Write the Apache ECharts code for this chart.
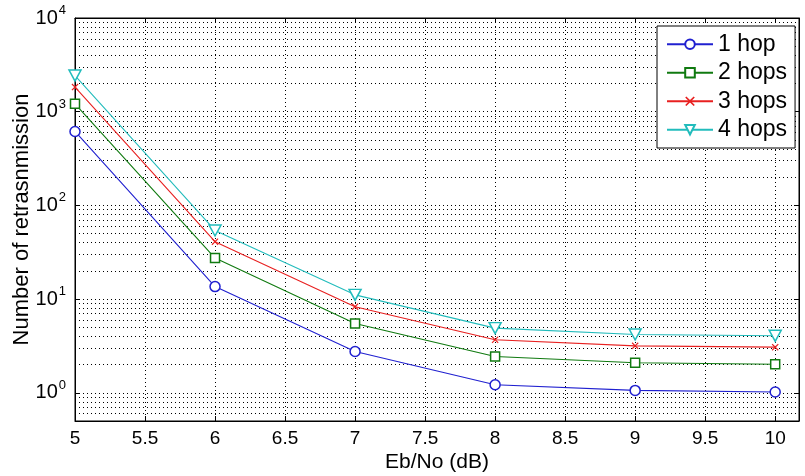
<!DOCTYPE html>
<html>
<head>
<meta charset="utf-8">
<script src="https://cdn.jsdelivr.net/npm/echarts@6/dist/echarts.min.js"></script>
<style>
html,body{margin:0;padding:0;background:#fff;}
#chart{width:805px;height:476px;}
</style>
</head>
<body>
<div id="chart"></div>
<script>
var ebNo = [5, 6, 7, 8, 9, 10];
var hop1 = [615, 13.6, 2.76, 1.22, 1.06, 1.02];
var hop2 = [1214, 27.4, 5.5, 2.44, 2.09, 2.02];
var hop3 = [1830, 41, 8.3, 3.68, 3.17, 3.07];
var hop4 = [2430, 54, 11.1, 4.9, 4.19, 4.06];
var seriesNames = ['1 hop', '2 hops', '3 hops', '4 hops'];
var xTickLabels = ['5', '5.5', '6', '6.5', '7', '7.5', '8', '8.5', '9', '9.5', '10'];
var minorGridValues = [0.6, 0.7, 0.8, 0.9,
  2, 3, 4, 5, 6, 7, 8, 9,
  20, 30, 40, 50, 60, 70, 80, 90,
  200, 300, 400, 500, 600, 700, 800, 900,
  2000, 3000, 4000, 5000, 6000, 7000, 8000, 9000];

var FONT = "'Liberation Sans', Arial, sans-serif";
var colors = ['#2020d0', '#107a10', '#e82020', '#22bcbc'];
var dotted = [1, 3];

function pairs(vals) { return ebNo.map(function (x, i) { return [x, vals[i]]; }); }

var xLabelFmt = function (v) {
  var s = String(Math.round(v * 10) / 10);
  if (Math.abs(v * 2 - Math.round(v * 2)) > 1e-6) return '';
  return xTickLabels.indexOf(s) >= 0 ? s : '';
};
var yLabelFmt = function (v) {
  var l = Math.log(v) / Math.LN10;
  var e = Math.round(l);
  if (Math.abs(l - e) > 1e-6) return '';
  return '{b|10}{s|' + e + '}';
};

var xSym = 'path://M0,1.2L1.2,0L5,3.8L8.8,0L10,1.2L6.2,5L10,8.8L8.8,10L5,6.2L1.2,10L0,8.8L3.8,5Z';
var triSym = 'path://M0,0L10,0L5,9Z';

var symbols = ['circle', 'rect', xSym, triSym];
var symSizes = [10, 9, 7, [12, 11]];
var dataSets = [hop1, hop2, hop3, hop4];

var series = dataSets.map(function (d, i) {
  var hollow = (i !== 2);
  return {
    name: seriesNames[i],
    type: 'line',
    data: pairs(d),
    symbol: symbols[i],
    symbolSize: symSizes[i],
    showAllSymbol: true,
    lineStyle: { color: colors[i], width: 1.1 },
    itemStyle: hollow ? { color: '#ffffff', borderColor: colors[i], borderWidth: 1.5 }
                      : { color: colors[i], borderColor: colors[i], borderWidth: 0 },
    z: 5,
    animation: false
  };
});

series.push({
  type: 'line',
  data: [],
  silent: true,
  z: 1,
  markLine: {
    silent: true,
    symbol: 'none',
    animation: false,
    label: { show: false },
    lineStyle: { color: '#000', type: dotted, width: 1 },
    data: minorGridValues.map(function (v) { return { yAxis: v }; })
  }
});

var chart = echarts.init(document.getElementById('chart'));
chart.setOption({
  backgroundColor: '#ffffff',
  animation: false,
  textStyle: { fontFamily: FONT },
  grid: { left: 75, right: 6, top: 18, bottom: 55, show: true, borderColor: '#000', borderWidth: 1,
          backgroundColor: 'transparent', containLabel: false, outerBoundsMode: 'none' },
  legend: {
    orient: 'vertical',
    left: 657, top: 26,
    data: seriesNames,
    backgroundColor: '#ffffff',
    borderColor: '#000', borderWidth: 1,
    padding: [6, 8, 6, 9],
    itemWidth: 46, itemHeight: 12, itemGap: 4,
    textStyle: { fontFamily: FONT, fontSize: 23, color: '#000', lineHeight: 24.5 },
    z: 10
  },
  xAxis: [{
    type: 'value', min: 5, max: 10.17, interval: 0.5,
    name: 'Eb/No (dB)', nameLocation: 'middle', nameGap: 31, nameMoveOverlap: false,
    nameTextStyle: { fontFamily: FONT, fontSize: 21, color: '#000' },
    axisLine: { show: true, lineStyle: { color: '#000' } },
    axisTick: { show: true, inside: true, length: 5, lineStyle: { color: '#000' } },
    axisLabel: { formatter: xLabelFmt, fontFamily: FONT, fontSize: 19, color: '#000', margin: 8, showMaxLabel: false },
    splitLine: { show: true, lineStyle: { color: '#000', type: dotted, width: 1 } }
  }, {
    type: 'value', min: 5, max: 10.17, interval: 0.5, position: 'top',
    axisLine: { show: true, lineStyle: { color: '#000' } },
    axisTick: { show: true, inside: true, length: 5, lineStyle: { color: '#000' } },
    axisLabel: { show: false }, splitLine: { show: false }
  }],
  yAxis: [{
    type: 'log', logBase: 10, min: 0.5, max: 10000, splitNumber: 5,
    name: 'Number of retrasnmission', nameLocation: 'middle', nameGap: 42, nameMoveOverlap: false,
    nameTextStyle: { fontFamily: FONT, fontSize: 22, color: '#000' },
    axisLine: { show: true, lineStyle: { color: '#000' } },
    axisTick: { show: true, inside: true, length: 5, lineStyle: { color: '#000' } },
    axisLabel: {
      formatter: yLabelFmt, fontFamily: FONT, color: '#000', margin: 9,
      showMinLabel: false,
      rich: {
        b: { fontFamily: FONT, fontSize: 20, color: '#000' },
        s: { fontFamily: FONT, fontSize: 13, color: '#000', padding: [0, 0, 15, 1] }
      }
    },
    splitLine: { show: true, lineStyle: { color: '#000', type: dotted, width: 1 } }
  }, {
    type: 'log', logBase: 10, min: 0.5, max: 10000, splitNumber: 5, position: 'right',
    axisLine: { show: true, lineStyle: { color: '#000' } },
    axisTick: { show: true, inside: true, length: 5, lineStyle: { color: '#000' } },
    axisLabel: { show: false }, splitLine: { show: false }
  }],
  series: series
});
</script>
</body>
</html>
